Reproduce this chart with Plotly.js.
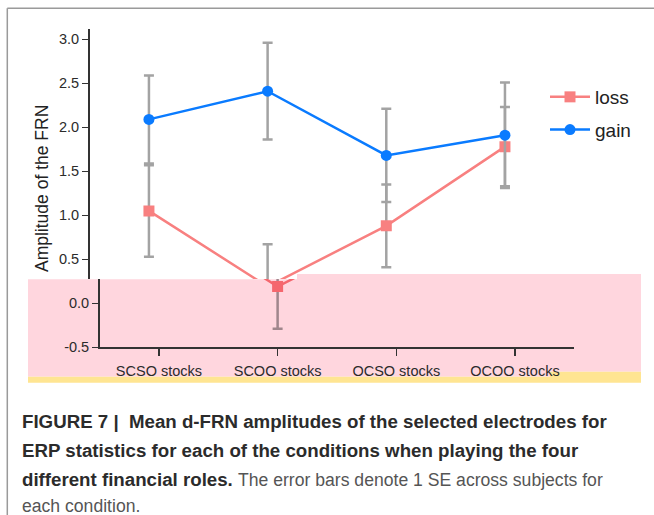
<!DOCTYPE html>
<html>
<head>
<meta charset="utf-8">
<script src="https://cdn.plot.ly/plotly-3.0.1.min.js"></script>
<style>html,body{margin:0;padding:0;background:#fff;}#chart{width:654px;height:515px;}</style>
</head>
<body>
<div id="chart"></div>
<script>
// ---- data ----
const categories = ['SCSO stocks', 'SCOO stocks', 'OCSO stocks', 'OCOO stocks'];
const lossMean = [1.05, 0.19, 0.88, 1.78];
const lossSE   = [0.52, 0.48, 0.47, 0.45];
const gainMean = [2.09, 2.41, 1.68, 1.91];
const gainSE   = [0.50, 0.55, 0.53, 0.60];
const yTicksUpper = [0.5, 1.0, 1.5, 2.0, 2.5, 3.0];
const yTickTextUpper = ['0.5', '1.0', '1.5', '2.0', '2.5', '3.0'];
const yTicksLower = [-0.5, 0.0];
const yTickTextLower = ['-0.5', '0.0'];
const yTitle = 'Amplitude of the FRN';
const captionLines = [
  '<b>FIGURE 7 |  Mean d-FRN amplitudes of the selected electrodes for</b>',
  '<b>ERP statistics for each of the conditions when playing the four</b>',
  '<b>different financial roles.</b> <span style="color:#555;font-size:17.6px">The error bars denote 1 SE across subjects for</span>',
  '<span style="color:#555;font-size:17.6px">each condition.</span>'
];

// ---- layout helpers ----
const W = 654, H = 515;
const fx = x => x / W;
const fy = y => 1 - y / H;
const FONT = 'Liberation Sans, Arial, sans-serif';

const lossColor = '#F88080', gainColor = '#0A7BFF', errColor = '#A3A3A3';
const lossColorLow = '#F5676E', errColorLow = '#A0868C';

function mk(name, mean, se, color, symbol, xa, ya, ecolor, showlegend) {
  return {
    type: 'scatter', mode: 'lines+markers', name: name,
    x: categories, y: mean, xaxis: xa, yaxis: ya,
    legendgroup: name, showlegend: showlegend,
    line: {color: color, width: 2.5},
    marker: {color: color, symbol: symbol, size: 11},
    error_y: {type: 'data', array: se, visible: true, color: ecolor, thickness: 2.5, width: 5},
    hoverinfo: 'skip'
  };
}

const data = [
  mk('loss', lossMean, lossSE, lossColor, 'square', 'x', 'y', errColor, true),
  mk('gain', gainMean, gainSE, gainColor, 'circle', 'x', 'y', errColor, true),
  mk('loss', lossMean, lossSE, lossColorLow, 'square', 'x2', 'y2', errColorLow, false),
  mk('gain', gainMean, gainSE, gainColor, 'circle', 'x2', 'y2', errColorLow, false)
];

const axisLine = '#333333';
const tickFont = {family: FONT, size: 14.5, color: '#2b2b2b'};

const pinkPath = 'M' + fx(28) + ',' + fy(279.3) + ' L' + fx(297) + ',' + fy(279.3) +
  ' L' + fx(297) + ',' + fy(274) + ' L' + fx(641) + ',' + fy(274) +
  ' L' + fx(641) + ',' + fy(371.7) + ' L' + fx(550) + ',' + fy(371.7) +
  ' L' + fx(550) + ',' + fy(376.7) + ' L' + fx(28) + ',' + fy(376.7) + ' Z';
const yellowPath = 'M' + fx(28) + ',' + fy(376.7) + ' L' + fx(550) + ',' + fy(376.7) +
  ' L' + fx(550) + ',' + fy(371.7) + ' L' + fx(641) + ',' + fy(371.7) +
  ' L' + fx(641) + ',' + fy(382.7) + ' L' + fx(28) + ',' + fy(382.7) + ' Z';

const annotations = [{
  xref: 'paper', yref: 'paper', x: fx(42), y: fy(189), xanchor: 'center', yanchor: 'middle',
  text: yTitle, textangle: -90, showarrow: false,
  font: {family: FONT, size: 17.5, color: '#222'}
}];
const capY = [421, 450, 479, 506];
captionLines.forEach((t, i) => annotations.push({
  xref: 'paper', yref: 'paper', x: fx(20), y: fy(capY[i]), xanchor: 'left', yanchor: 'middle',
  text: t, showarrow: false, align: 'left',
  font: {family: FONT, size: 18.7, color: '#2b2b2b'}
}));

const layout = {
  width: W, height: H,
  margin: {l: 0, r: 0, t: 0, b: 0},
  paper_bgcolor: '#ffffff', plot_bgcolor: 'rgba(0,0,0,0)',
  showlegend: true,
  legend: {x: fx(545), y: fy(78), xanchor: 'left', yanchor: 'top',
    bgcolor: 'rgba(0,0,0,0)', font: {family: FONT, size: 19, color: '#222'},
    traceorder: 'grouped', tracegroupgap: 5, itemwidth: 40},
  xaxis: {type: 'category', categoryorder: 'array', categoryarray: categories,
    domain: [fx(89.6), fx(564.3)], range: [-0.5, 3.5], anchor: 'y',
    showline: false, showgrid: false, zeroline: false, showticklabels: false, ticks: ''},
  yaxis: {domain: [fy(279), fy(29.3)], range: [0.2761, 3.1136], anchor: 'x',
    tickvals: yTicksUpper, ticktext: yTickTextUpper, ticks: 'outside', ticklen: 6, tickwidth: 1.5,
    tickcolor: axisLine, showline: true, linecolor: axisLine, linewidth: 1.5,
    showgrid: false, zeroline: false, tickfont: tickFont},
  xaxis2: {type: 'category', categoryorder: 'array', categoryarray: categories,
    domain: [fx(99.6), fx(574.3)], range: [-0.5, 3.5], anchor: 'y2',
    showline: true, linecolor: axisLine, linewidth: 1.5, ticks: 'outside', ticklen: 7,
    tickwidth: 1.5, tickcolor: axisLine, showgrid: false, zeroline: false,
    tickfont: tickFont, ticklabelstandoff: 3},
  yaxis2: {domain: [fy(347.3), fy(279)], range: [-0.5, 0.2761], anchor: 'x2',
    tickvals: yTicksLower, ticktext: yTickTextLower, ticks: 'outside', ticklen: 6, tickwidth: 1.5,
    tickcolor: axisLine, showline: true, linecolor: axisLine, linewidth: 1.5,
    showgrid: false, zeroline: false, tickfont: tickFont},
  shapes: [
    {type: 'path', xref: 'paper', yref: 'paper', path: pinkPath, fillcolor: '#FFD6DE', line: {width: 0}, layer: 'below'},
    {type: 'path', xref: 'paper', yref: 'paper', path: yellowPath, fillcolor: '#FFE592', line: {width: 0}, layer: 'below'},
    {type: 'line', xref: 'paper', yref: 'paper', x0: fx(7.3), x1: fx(7.3), y0: fy(8.3), y1: 0, line: {color: '#9a9a9a', width: 1.5}},
    {type: 'line', xref: 'paper', yref: 'paper', x0: fx(7.3), x1: 1, y0: fy(8.3), y1: fy(8.3), line: {color: '#9a9a9a', width: 1.5}}
  ],
  annotations: annotations
};

Plotly.newPlot('chart', data, layout, {staticPlot: true, displayModeBar: false});
</script>
</body>
</html>
